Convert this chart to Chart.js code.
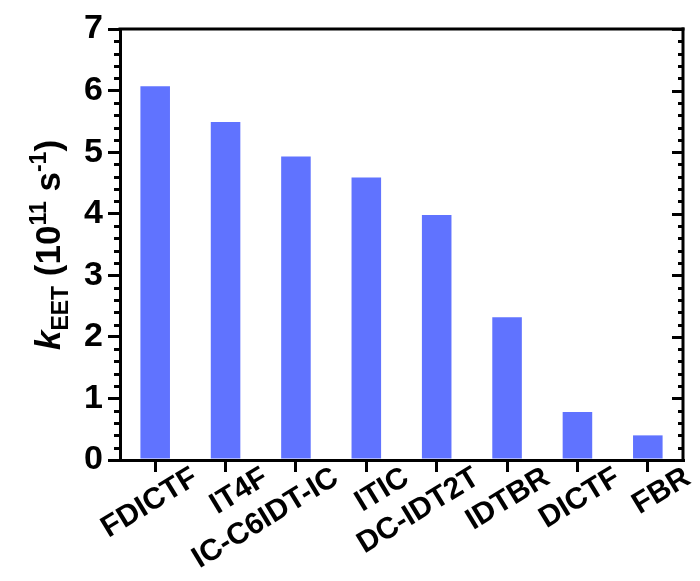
<!DOCTYPE html>
<html>
<head>
<meta charset="utf-8">
<script src="https://cdn.jsdelivr.net/npm/chart.js@4.4.1/dist/chart.umd.min.js"></script>
<style>
  html, body { margin: 0; padding: 0; background: #fff; }
  #wrap { width: 700px; height: 581px; }
</style>
</head>
<body>
<div id="wrap"><canvas id="barChart" width="700" height="581"></canvas></div>
<script>
const categories = ['FDICTF', 'IT4F', 'IC-C6IDT-IC', 'ITIC', 'DC-IDT2T', 'IDTBR', 'DICTF', 'FBR'];
const kEET = [6.07, 5.49, 4.93, 4.59, 3.98, 2.32, 0.78, 0.40];
const yTicks = [0, 1, 2, 3, 4, 5, 6, 7];

const FONT = '"Liberation Sans", Arial, sans-serif';

// minor/major ticks, top and right frame lines
const framePlugin = {
    id: 'frame',
    afterDraw(chart) {
        const ctx = chart.ctx;
        const area = chart.chartArea;
        const y = chart.scales.y;
        ctx.save();
        ctx.strokeStyle = '#000';
        ctx.lineWidth = 3;
        ctx.lineCap = 'butt';
        // top line
        ctx.beginPath();
        ctx.moveTo(area.left - 1.5, area.top);
        ctx.lineTo(area.right + 1.5, area.top);
        ctx.stroke();
        // right line
        ctx.beginPath();
        ctx.moveTo(area.right, area.top - 1.5);
        ctx.lineTo(area.right, area.bottom + 1.5);
        ctx.stroke();
        // ticks every 0.2
        for (let i = 0; i <= 35; i++) {
            const v = i / 5;
            const py = Math.round(y.getPixelForValue(v)) + 0.5;
            const major = i % 5 === 0;
            ctx.beginPath();
            if (!major) {
                ctx.moveTo(area.left - 6, py);
                ctx.lineTo(area.left, py);
            }
            ctx.moveTo(area.right - (major ? 11 : 5), py);
            ctx.lineTo(area.right, py);
            ctx.stroke();
        }
        ctx.restore();
    }
};

// y axis title with subscript / superscripts
const yTitlePlugin = {
    id: 'yTitle',
    afterDraw(chart) {
        const ctx = chart.ctx;
        const parts = [
            { t: 'k', f: 'italic bold 35px ' + FONT, dy: 0 },
            { t: 'EET', f: 'bold 23px ' + FONT, dy: 8 },
            { t: ' (10', f: 'bold 35px ' + FONT, dy: 0 },
            { t: '11', f: 'bold 23px ' + FONT, dy: -14 },
            { t: ' s', f: 'bold 35px ' + FONT, dy: 0 },
            { t: '-1', f: 'bold 23px ' + FONT, dy: -14 },
            { t: ')', f: 'bold 35px ' + FONT, dy: 0 }
        ];
        ctx.save();
        let total = 0;
        parts.forEach(p => { ctx.font = p.f; p.w = ctx.measureText(p.t).width; total += p.w; });
        const cy = chart.chartArea.top + 216;
        ctx.translate(60, cy);
        ctx.rotate(-Math.PI / 2);
        ctx.fillStyle = '#000';
        ctx.textBaseline = 'alphabetic';
        let x = -total / 2;
        parts.forEach(p => {
            ctx.font = p.f;
            ctx.fillText(p.t, x, p.dy);
            x += p.w;
        });
        ctx.restore();
    }
};

const data_bar = {
    labels: categories,
    datasets: [
        {
            data: kEET,
            backgroundColor: '#6073FF',
            borderWidth: 0,
            barPercentage: 0.42,
            categoryPercentage: 1.0
        }
    ]
};

const barChart_config = {
    type: 'bar',
    data: data_bar,
    options: {
        responsive: false,
        animation: false,
        layout: {
            padding: { top: 29, right: 17, left: 0, bottom: 0 }
        },
        scales: {
            x: {
                offset: true,
                grid: {
                    display: true,
                    drawOnChartArea: false,
                    drawTicks: true,
                    offset: false,
                    tickLength: 12,
                    lineWidth: 3,
                    color: '#000'
                },
                border: { display: true, color: '#000', width: 3 },
                ticks: {
                    autoSkip: false,
                    maxRotation: 31.5,
                    minRotation: 31.5,
                    padding: -12,
                    labelOffset: 40,
                    color: '#000',
                    font: { family: FONT, size: 30, weight: 'bold' }
                },
                afterFit(scale) { scale.height = 121; }
            },
            y: {
                min: 0,
                max: 7,
                afterBuildTicks(scale) { scale.ticks = yTicks.map(v => ({ value: v })); },
                grid: {
                    display: true,
                    drawOnChartArea: false,
                    drawTicks: true,
                    tickLength: 12,
                    lineWidth: 3,
                    color: '#000'
                },
                border: { display: true, color: '#000', width: 3 },
                ticks: {
                    padding: 5,
                    color: '#000',
                    font: { family: FONT, size: 34, weight: 'bold' }
                },
                afterFit(scale) { scale.width = 120; }
            }
        },
        plugins: {
            legend: { display: false },
            tooltip: { enabled: false }
        }
    },
    plugins: [framePlugin, yTitlePlugin]
};

new Chart(document.getElementById('barChart'), barChart_config);
</script>
</body>
</html>
